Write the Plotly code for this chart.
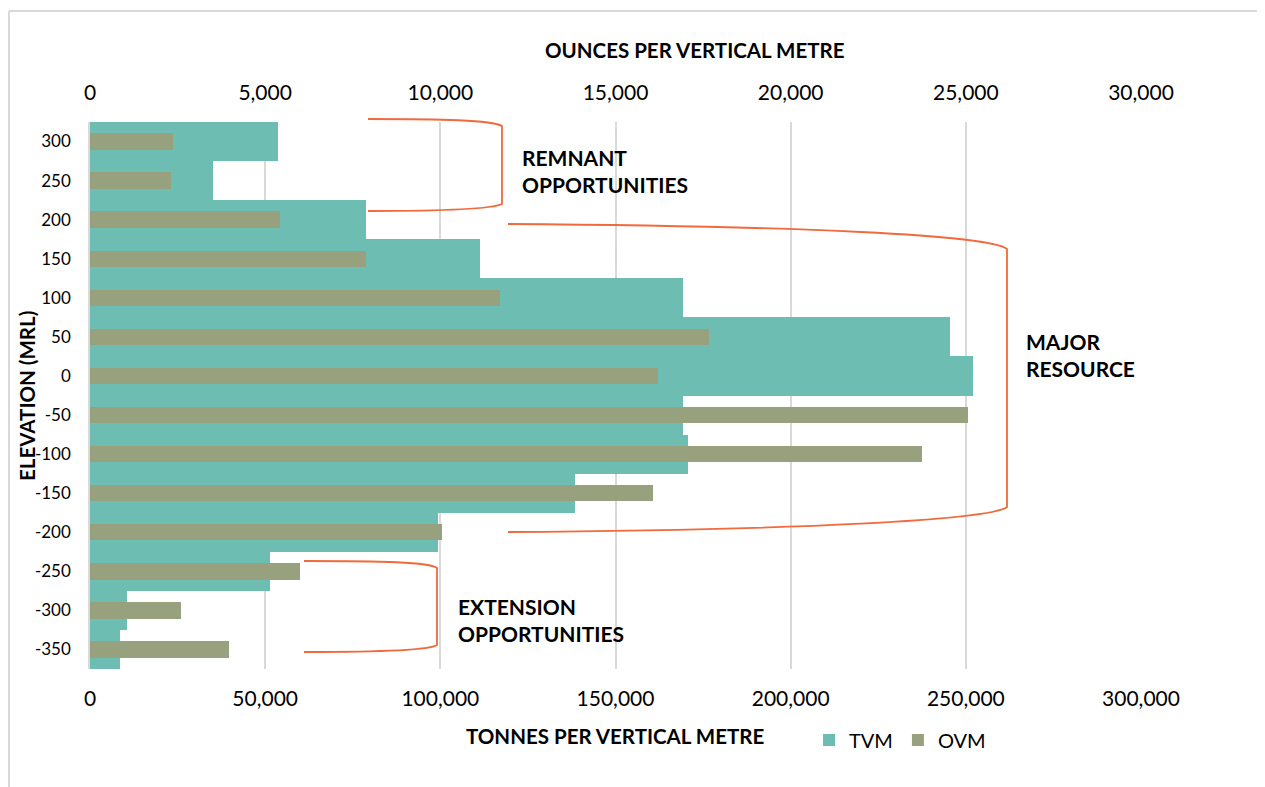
import plotly.graph_objects as go

elevations = ["300", "250", "200", "150", "100", "50", "0", "-50", "-100", "-150", "-200", "-250", "-300", "-350"]
tvm = [53700, 35100, 78900, 111400, 169400, 245400, 252000, 169400, 170600, 138300, 99400, 51400, 10600, 8600]
ovm = [2370, 2310, 5430, 7890, 11710, 17660, 16200, 25060, 23740, 16060, 10060, 6000, 2600, 3970]
tonnes_ticks = [0, 50000, 100000, 150000, 200000, 250000, 300000]
ounces_ticks = [0, 5000, 10000, 15000, 20000, 25000, 30000]

OFF = 8  # page body margin
W, H = 1265 - OFF, 787 - OFF
L, R, T, B = 90, 1141, 122, 669  # plot area in window pixels

def px(x):
    return (x - L) / (R - L)

def py(y):
    return (B - y) / (B - T)

FONT = "Lato"
TVM_COLOR = "#6dbdb3"
OVM_COLOR = "#98a17e"
BRACE = "#f06a3c"

fig = go.Figure()
fig.add_trace(go.Bar(
    y=elevations, x=tvm, orientation="h", name="TVM",
    marker=dict(color=TVM_COLOR, line=dict(width=0)), width=1.0,
    xaxis="x", yaxis="y"))
fig.add_trace(go.Bar(
    y=elevations, x=ovm, orientation="h", name="OVM",
    marker=dict(color=OVM_COLOR, line=dict(width=0)), width=0.42,
    xaxis="x2", yaxis="y"))

def brace_path(pts):
    out = []
    for cmd, coords in pts:
        out.append(cmd + " " + " ".join(f"{px(a):.5f},{py(b):.5f}" for a, b in coords))
    return " ".join(out)

braces = [
    [("M", [(368, 119)]), ("C", [(440, 119), (492, 120), (502, 126)]), ("L", [(502, 204)]),
     ("C", [(492, 209), (440, 211), (368, 211)])],
    [("M", [(508, 224)]), ("C", [(800, 226), (990, 235), (1007, 249)]), ("L", [(1007, 507)]),
     ("C", [(990, 520), (800, 530), (508, 532)])],
    [("M", [(304, 561)]), ("C", [(380, 561), (430, 562), (437, 568)]), ("L", [(437, 645)]),
     ("C", [(430, 650), (380, 652), (304, 652)])],
]
shapes = []
for b in braces:
    shapes.append(dict(type="path", path=brace_path(b), xref="paper", yref="paper",
                       line=dict(color=BRACE, width=1.8)))
shapes.append(dict(type="line", xref="paper", yref="paper", x0=px(9), x1=px(1265), y0=py(11), y1=py(11),
                   line=dict(color="#d9d9d9", width=2)))
shapes.append(dict(type="line", xref="paper", yref="paper", x0=px(9), x1=px(9), y0=py(11), y1=py(787),
                   line=dict(color="#d9d9d9", width=2)))

annotations = []
def label(text, x, y, size=21, xanchor="left", angle=0):
    annotations.append(dict(text=text, x=px(x), y=py(y), xref="paper", yref="paper", showarrow=False,
                            xanchor=xanchor, yanchor="middle", textangle=angle, align="left",
                            font=dict(family=FONT, size=size, color="#000000", weight="bold")))

label("REMNANT<br>OPPORTUNITIES", 520, 171)
label("MAJOR<br>RESOURCE", 1024, 355)
label("EXTENSION<br>OPPORTUNITIES", 456, 620)
label("OUNCES PER VERTICAL METRE", 694, 50, size=20.5, xanchor="center")
label("TONNES PER VERTICAL METRE", 615, 736, size=20.5, xanchor="center")
label("ELEVATION (MRL)", 27, 396, size=20.5, xanchor="center", angle=-90)

fig.update_layout(
    width=W, height=H,
    margin=dict(l=L - OFF, r=1265 - R, t=T - OFF, b=787 - B),
    paper_bgcolor="white", plot_bgcolor="white",
    barmode="overlay", bargap=0,
    font=dict(family=FONT, color="#000000"),
    xaxis=dict(range=[0, 300000], tickvals=tonnes_ticks, tickformat=",", showgrid=True,
               gridcolor="#d9d9d9", gridwidth=1.5, zeroline=False, showline=False,
               tickfont=dict(size=21, family=FONT), ticks="", ticklabelstandoff=15, side="bottom"),
    xaxis2=dict(range=[0, 30000], tickvals=ounces_ticks, tickformat=",", overlaying="x", side="top",
                showgrid=False, zeroline=False, showline=False,
                tickfont=dict(size=21, family=FONT), ticks="", ticklabelstandoff=17),
    yaxis=dict(categoryorder="array", categoryarray=elevations, autorange="reversed",
               showline=True, linecolor="#d9d9d9", linewidth=1.5, showgrid=False,
               tickfont=dict(size=17, family=FONT), ticks="", ticklabelstandoff=14),
    legend=dict(orientation="h", x=px(809), y=py(740), xanchor="left", yanchor="middle",
                font=dict(size=20, family=FONT), bgcolor="rgba(0,0,0,0)", itemwidth=30,
                traceorder="normal"),
    shapes=shapes, annotations=annotations, showlegend=True,
)

fig.write_html("out.html")
